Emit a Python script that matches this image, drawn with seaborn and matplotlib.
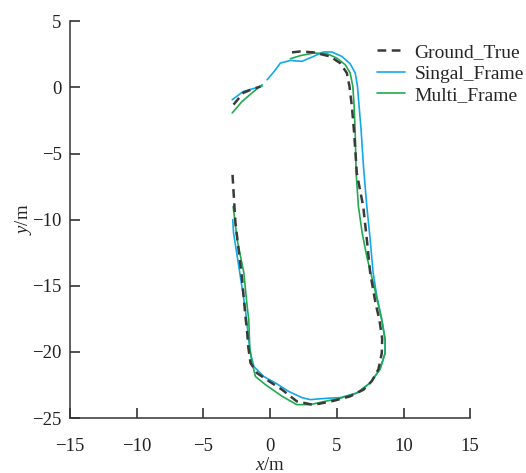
import numpy as np
import pandas as pd
import matplotlib
matplotlib.use("Agg")
import matplotlib.pyplot as plt
from matplotlib.lines import Line2D
import seaborn as sns

# ---------------- data ----------------
gt_a_x = [-2.74, -2.0, -1.3, -0.72]
gt_a_y = [-1.3, -0.4, -0.12, 0.07]
gt_b_x = [1.64, 2.26, 3.26, 4.5, 5.25, 5.75, 5.95, 6.13, 6.3, 6.5, 6.98, 7.25, 7.5, 7.9,
          8.19, 8.4, 8.37, 8.12, 7.62, 7.0, 6.0, 4.73, 3.24, 2.0, 0.9, -0.1, -0.97,
          -1.47, -1.64, -1.72, -1.85, -2.1, -2.6, -2.84]
gt_b_y = [2.65, 2.72, 2.65, 2.34, 1.84, 1.09, 0.08, -1.44, -3.45, -6.5, -9.0, -11.5, -14.0, -16.3,
          -17.56, -19.0, -20.08, -21.3, -22.2, -22.85, -23.35, -23.7, -24.0, -23.73, -22.85, -22.2, -21.6,
          -20.83, -19.6, -18.5, -17.3, -14.5, -10.2, -6.2]

sf_a_x = [-2.84, -2.0, -1.3, -0.6]
sf_a_y = [-0.93, -0.3, -0.1, 0.08]
sf_b_x = [-0.22, 0.3, 0.77, 1.52, 2.39, 3.24, 4.0, 4.63, 5.38, 6.0, 6.38, 6.55, 6.67, 6.82,
          7.0, 7.25, 7.5, 7.72, 8.0, 8.37, 8.62, 8.62, 8.24, 7.5, 6.5, 5.25, 4.26, 3.0,
          2.39, 1.39, 0.4, -0.48, -1.22, -1.47, -1.6, -1.85, -2.35, -2.74, -2.8]
sf_b_y = [0.58, 1.2, 1.84, 2.04, 1.97, 2.34, 2.68, 2.68, 2.34, 1.79, 1.09, 0.08, -1.44, -3.2,
          -6.0, -9.0, -11.5, -14.0, -15.8, -17.56, -19.07, -20.08, -21.3, -22.34, -23.1, -23.45, -23.5, -23.6,
          -23.45, -22.98, -22.34, -21.85, -21.1, -20.08, -19.1, -16.8, -13.5, -11.0, -10.0]

mf_a_x = [-2.84, -2.1, -1.22, -0.6]
mf_a_y = [-1.93, -1.06, -0.3, 0.2]
mf_b_x = [1.52, 2.26, 3.26, 4.26, 5.0, 5.63, 6.0, 6.2, 6.3, 6.38, 6.45, 6.62, 6.9, 7.25,
          7.9, 8.37, 8.62, 8.62, 8.24, 7.5, 6.5, 5.25, 4.26, 3.0, 2.0, 0.9, -0.35,
          -1.1, -1.35, -1.52, -1.6, -1.72, -1.97, -2.47, -2.77]
mf_b_y = [2.17, 2.4, 2.6, 2.55, 2.22, 1.72, 1.09, 0.08, -1.44, -3.45, -6.5, -9.0, -11.0, -12.8,
          -15.5, -17.56, -19.07, -20.08, -21.3, -22.34, -23.1, -23.5, -23.7, -23.98, -23.98, -23.35, -22.47,
          -21.85, -20.83, -19.8, -17.55, -16.55, -14.0, -11.5, -9.0]

series_names = ["Ground_True", "Singal_Frame", "Multi_Frame"]
x_ticks = [-15, -10, -5, 0, 5, 10, 15]
y_ticks = [5, 0, -5, -10, -15, -20, -25]


def seg_df(xs, ys, seg):
    return pd.DataFrame({"x": xs, "y": ys, "seg": seg})


df_gt = pd.concat([seg_df(gt_a_x, gt_a_y, 0), seg_df(gt_b_x, gt_b_y, 1)], ignore_index=True)
df_sf = pd.concat([seg_df(sf_a_x, sf_a_y, 0), seg_df(sf_b_x, sf_b_y, 1)], ignore_index=True)
df_mf = pd.concat([seg_df(mf_a_x, mf_a_y, 0), seg_df(mf_b_x, mf_b_y, 1)], ignore_index=True)

# ---------------- style ----------------
sns.set_style("ticks")
plt.rcParams["font.family"] = ["Liberation Serif", "DejaVu Serif"]
plt.rcParams["mathtext.fontset"] = "custom"
plt.rcParams["mathtext.it"] = "Liberation Serif:italic"
plt.rcParams["mathtext.rm"] = "Liberation Serif"

c_gt = "#3a3a3a"
c_sf = "#12a9e6"
c_mf = "#22aa50"

fig = plt.figure(figsize=(5.26, 4.73), dpi=100)
ax = fig.add_axes([0.133, 0.116, 0.761, 0.839])

sns.lineplot(data=df_sf, x="x", y="y", units="seg", estimator=None, sort=False,
             ax=ax, color=c_sf, linewidth=1.2, zorder=3)
sns.lineplot(data=df_mf, x="x", y="y", units="seg", estimator=None, sort=False,
             ax=ax, color=c_mf, linewidth=1.2, zorder=4)
sns.lineplot(data=df_gt, x="x", y="y", units="seg", estimator=None, sort=False,
             ax=ax, color=c_gt, linewidth=1.8, dashes=False, zorder=5,
             linestyle=(0, (3.5, 2.2)))

ax.set_xlim(-15, 15)
ax.set_ylim(-25, 5)
ax.set_xticks(x_ticks)
ax.set_yticks(y_ticks)
ax.tick_params(direction="in", length=7, width=1.1, labelsize=13.5, colors="#222222")
ax.tick_params(axis="y", pad=6)
ax.tick_params(axis="x", pad=14)
for s in ["top", "right"]:
    ax.spines[s].set_visible(False)
for s in ["left", "bottom"]:
    ax.spines[s].set_linewidth(1.1)
    ax.spines[s].set_color("#333333")

ax.set_xlabel(r"$x$/m", fontsize=13.5, labelpad=1.5)
ax.set_ylabel(r"$y$/m", fontsize=13.5, labelpad=-1)

handles = [
    Line2D([], [], color=c_gt, linewidth=1.8, linestyle=(0, (3.5, 2.2))),
    Line2D([], [], color=c_sf, linewidth=1.2),
    Line2D([], [], color=c_mf, linewidth=1.2),
]
fig.legend(handles, series_names, loc="upper left", bbox_to_anchor=(0.716, 0.908),
           frameon=False, fontsize=14, handlelength=1.45, handletextpad=0.5,
           labelspacing=0.2, borderpad=0, borderaxespad=0)

fig.savefig("out.png", dpi=100)
